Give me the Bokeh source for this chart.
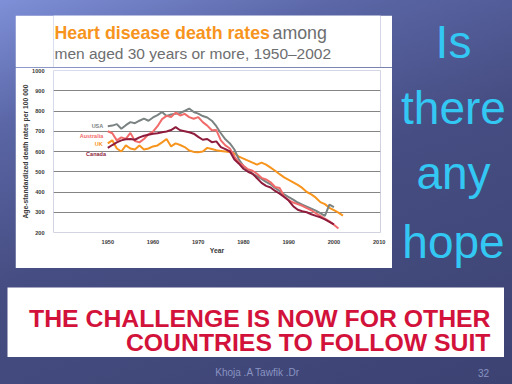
from bokeh.plotting import figure
from bokeh.models import Range1d, Label, Column, Row
from bokeh.embed import file_html
from bokeh.resources import INLINE

# ---------------- data ----------------
years_usa = list(range(1950, 2001))
usa = [725, 728, 735, 712, 730, 745, 740, 752, 762, 752,
       768, 780, 795, 775, 783, 786, 790, 800, 812, 795,
       787, 775, 768, 752, 725, 690, 660, 640, 610, 560,
       528, 505, 490, 478, 465, 450, 438, 420, 405, 388,
       375, 362, 348, 338, 328, 318, 308, 296, 282, 338,
       325]

years_australia = list(range(1950, 2002))
australia = [700, 690, 655, 670, 662, 692, 652, 645, 662, 685,
             698, 725, 760, 776, 770, 792, 778, 786, 770, 762,
             770, 745, 728, 705, 706, 655, 630, 615, 575, 545,
             530, 512, 505, 490, 470, 462, 448, 425, 420, 378,
             360, 348, 340, 332, 320, 310, 295, 282, 268, 255,
             238, 220]

years_uk = list(range(1950, 2003))
uk = [640, 655, 615, 600, 630, 615, 610, 630, 610, 615,
      625, 630, 645, 662, 625, 640, 632, 622, 605, 598,
      596, 600, 618, 612, 606, 603, 600, 598, 590, 575,
      565, 555, 545, 535, 545, 535, 520, 505, 488, 472,
      460, 448, 435, 420, 400, 388, 372, 350, 340, 322,
      310, 298, 283]

years_canada = list(range(1950, 2001))
canada = [618, 632, 645, 655, 660, 662, 658, 670, 678, 683,
          688, 690, 695, 699, 706, 720, 705, 700, 695, 688,
          672, 658, 662, 646, 650, 622, 612, 600, 560, 540,
          515, 500, 490, 468, 445, 430, 422, 405, 392, 375,
          358, 330, 312, 305, 300, 290, 282, 275, 265, 253,
          240]

series_names = ["USA", "Australia", "UK", "Canada"]
x_ticks = [1950, 1960, 1970, 1980, 1990, 2000, 2010]
y_ticks = [200, 300, 400, 500, 600, 700, 800, 900, 1000]

title_bold = "Heart disease death rates"
title_rest = "among"
title_line2 = "men aged 30 years or more, 1950\u20132002"
side_words = ["Is", "there", "any", "hope"]
banner_lines = ["THE CHALLENGE IS NOW FOR OTHER", "COUNTRIES TO FOLLOW SUIT"]
footer_text = "Khoja .A Tawfik .Dr"
page_number = "32"

# ---------------- helpers ----------------
SANS = "Liberation Sans"


def blank_fig(w, h, bg, margin=(0, 0, 0, 0)):
    f = figure(width=w, height=h, output_backend="svg", toolbar_location=None,
               x_range=Range1d(0, w), y_range=Range1d(0, h),
               x_axis_location=None, y_axis_location=None,
               min_border=0, outline_line_color=None, margin=margin,
               background_fill_color=bg, border_fill_color=bg)
    f.xgrid.visible = False
    f.ygrid.visible = False
    return f


def clabel(f, x, y, text, **kw):
    f.add_layout(Label(x=x, y=y, x_units="canvas", y_units="canvas", text=text,
                       text_font=SANS, text_baseline="middle", **kw))


# ---------------- title panel ----------------
title_fig = blank_fig(377, 52, "white")
clabel(title_fig, 39, 17, title_bold, text_font_size="17.8px", text_font_style="bold",
       text_color="#f7941d")
clabel(title_fig, 257, 17, title_rest, text_font_size="17.8px", text_color="#6d6e70")
clabel(title_fig, 39, 37.5, title_line2, text_font_size="15.5px", text_color="#6d6e70")

# ---------------- chart ----------------
p = figure(width=377, height=201, output_backend="svg", toolbar_location=None,
           x_range=Range1d(1938, 2010.3), y_range=Range1d(200, 1000),
           min_border_left=38, min_border_right=12, min_border_top=3,
           min_border_bottom=36, background_fill_color="white",
           border_fill_color="white", outline_line_color=None)

p.xaxis.ticker = x_ticks
p.yaxis.ticker = y_ticks
for ax in (p.xaxis, p.yaxis):
    ax.axis_line_color = None
    ax.major_tick_line_color = None
    ax.minor_tick_line_color = None
    ax.major_label_text_font = SANS
    ax.major_label_text_font_size = "5.6px"
    ax.major_label_text_font_style = "bold"
    ax.major_label_text_color = "#3a3a3a"
    ax.axis_label_text_font = SANS
    ax.axis_label_text_font_size = "6.8px"
    ax.axis_label_text_font_style = "bold"
    ax.axis_label_text_color = "#3a3a3a"
p.yaxis.major_label_standoff = 3
p.xaxis.major_label_standoff = 1
p.yaxis.axis_label = "Age-standardized death rates per 100 000"
p.xaxis.axis_label = "Year"
p.yaxis.axis_label_standoff = 0
p.xaxis.axis_label_standoff = 0
p.xgrid.visible = False
p.ygrid.grid_line_color = "#858585"
p.ygrid.grid_line_width = 1

colors = {"USA": "#7b8282", "Australia": "#f26b6b", "UK": "#f7941d", "Canada": "#8e1c3c"}
p.line(years_uk, uk, line_color=colors["UK"], line_width=2)
p.line(years_usa, usa, line_color=colors["USA"], line_width=2)
p.line(years_australia, australia, line_color=colors["Australia"], line_width=2)
p.line(years_canada, canada, line_color=colors["Canada"], line_width=2)

label_pos = {"USA": (1949.0, 728), "Australia": (1949.0, 679),
             "UK": (1948.9, 635), "Canada": (1949.6, 586)}
for name in series_names:
    lx, ly = label_pos[name]
    p.add_layout(Label(x=lx, y=ly, text=name, text_align="right", text_baseline="middle",
                       text_font=SANS, text_font_size="5.5px", text_font_style="bold",
                       text_color=colors[name]))

left_col = Column(children=[title_fig, p], spacing=0, margin=(15, 0, 0, 15))

# ---------------- side question ----------------
side_fig = blank_fig(120, 287, None)
for word, mid in zip(side_words, [41, 107, 172, 241]):
    clabel(side_fig, 61, mid, word, text_font_size="46px", text_align="center",
           text_color="#33c7f3")

top_row = Row(children=[left_col, side_fig], spacing=0)

# ---------------- banner ----------------
banner_fig = blank_fig(497, 70, "white", margin=(0, 8, 0, 7))
for line, mid in zip(banner_lines, [30.5, 54.5]):
    clabel(banner_fig, 483, mid, line, text_font_size="24.8px", text_font_style="bold",
           text_align="right", text_color="#d2123a")

# ---------------- footer ----------------
footer_fig = blank_fig(512, 27, None)
clabel(footer_fig, 257, 15, footer_text, text_font_size="10px", text_align="center",
       text_color="#8a93c2")
clabel(footer_fig, 483, 15, page_number, text_font_size="10px", text_align="center",
       text_color="#8a93c2")

page = Column(children=[top_row, banner_fig, footer_fig], spacing=0,
              styles={"background": "linear-gradient(160deg, #7f90d8 0%, #5a66a6 22%, "
                                    "#464d82 50%, #41487a 75%, #3c4373 100%)"})

open("out.html", "w").write(file_html(page, INLINE))
